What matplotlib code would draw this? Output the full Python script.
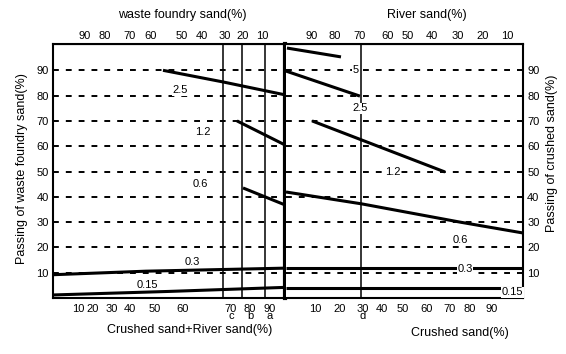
import matplotlib
matplotlib.use('Agg')
import matplotlib.pyplot as plt

plt.rcParams['font.family'] = ['Liberation Sans', 'DejaVu Sans']

# horizontal position inside each half is given on a 0-100 scale
# (left half: crushed+river sand vs foundry sand, right half: crushed vs river sand)
y_ticks = [10, 20, 30, 40, 50, 60, 70, 80, 90]

left_bottom_pos = [10.8, 17.2, 25.4, 33.2, 44.0, 56.0, 76.7, 84.9, 93.5]
left_bottom_lbl = ['10', '20', '30', '40', '50', '60', '70\nc', '80\nb', '90\na']
left_top_pos = [13.8, 22.4, 33.2, 42.2, 55.6, 64.2, 74.1, 81.9, 90.1]
left_top_lbl = ['90', '80', '70', '60', '50', '40', '30', '20', '10']

right_bottom_pos = [12.2, 22.8, 32.5, 40.5, 49.4, 59.5, 69.2, 77.6, 86.9]
right_bottom_lbl = ['10', '20', '30\nd', '40', '50', '60', '70', '80', '90']
right_top_pos = [11.0, 20.7, 31.2, 43.0, 51.5, 61.6, 72.6, 83.1, 93.2]
right_top_lbl = ['90', '80', '70', '60', '50', '40', '30', '20', '10']

# mix lines a, b, c (left) and d (right)
left_mix = [73.3, 81.5, 91.4]
right_mix = [31.6]

# grading curves: sieve size -> (x, passing %)
left_curves = {
    '2.5': ([47.4, 73.3, 100], [90.0, 85.4, 80.3]),
    '1.2': ([79.3, 100], [70.0, 60.5]),
    '0.6': ([81.9, 100], [43.5, 36.8]),
    '0.3': ([0, 40, 100], [9.2, 10.6, 11.8]),
    '0.15': ([0, 50, 100], [1.2, 2.6, 4.2]),
}
right_curves = {
    '5': ([0.4, 23.2], [98.8, 95.3]),
    '2.5': ([0, 31.2], [89.7, 79.8]),
    '1.2': ([11.0, 67.1], [70.0, 49.8]),
    '0.6': ([0, 32.0, 73.4, 100], [41.9, 37.2, 30.0, 25.7]),
    '0.3': ([0, 100], [11.8, 11.8]),
    '0.15': ([0, 100], [4.0, 4.0]),
}

# label anchor points for curves
left_tags = {'2.5': (54.7, 82.2), '1.2': (64.7, 65.6), '0.6': (63.4, 45.0),
             '0.3': (59.9, 14.2), '0.15': (40.5, 5.3)}
right_tags = {'5': (29.5, 90.1), '2.5': (31.2, 75.0), '1.2': (45.0, 49.8),
              '0.6': (73.4, 22.9), '0.3': (75.5, 11.5), '0.15': (95.4, 2.2)}

W, H = 566, 354
fig = plt.figure(figsize=(W / 100, H / 100), dpi=100)
bot = (H - 298) / H
hgt = (298 - 44) / H
axL = fig.add_axes([53 / W, bot, (285 - 53) / W, hgt])
axR = fig.add_axes([286 / W, bot, (523 - 286) / W, hgt])

tick_fs = 8
for ax in (axL, axR):
    ax.set_xlim(0, 100)
    ax.set_ylim(0, 100.4)
    for v in y_ticks:
        ax.plot([0, 100], [v, v], color='black', lw=1.4,
                ls=(0, (3, 3.6)), zorder=1)
    for s in ax.spines.values():
        s.set_linewidth(1.5)
    ax.tick_params(axis='both', length=0, labelsize=tick_fs)
    ax.set_yticks(y_ticks)

axL.spines['right'].set_linewidth(3.0)
axR.spines['left'].set_visible(False)

axL.set_xticks(left_bottom_pos)
axL.set_xticklabels(left_bottom_lbl, linespacing=0.72)
axL.tick_params(axis='x', pad=4)
axL.tick_params(axis='y', pad=3)
secL = axL.secondary_xaxis('top')
secL.set_xticks(left_top_pos)
secL.set_xticklabels(left_top_lbl)
secL.tick_params(length=0, labelsize=tick_fs, pad=2)

axR.set_xticks(right_bottom_pos)
axR.set_xticklabels(right_bottom_lbl, linespacing=0.72)
axR.tick_params(axis='x', pad=4)
axR.yaxis.tick_right()
axR.tick_params(axis='y', pad=3)
secR = axR.secondary_xaxis('top')
secR.set_xticks(right_top_pos)
secR.set_xticklabels(right_top_lbl)
secR.tick_params(length=0, labelsize=tick_fs, pad=2)

for x in left_mix:
    axL.axvline(x, color='black', lw=1.1, zorder=2)
for x in right_mix:
    axR.axvline(x, color='black', lw=1.1, zorder=2)

for ax, curves, tags in ((axL, left_curves, left_tags),
                         (axR, right_curves, right_tags)):
    for key, (xs, ys) in curves.items():
        ax.plot(xs, ys, color='black', lw=2.2, solid_capstyle='butt',
                zorder=3, clip_on=False)
    for key, (tx, ty) in tags.items():
        ax.text(tx, ty, key, fontsize=8, ha='center', va='center', zorder=4,
                bbox=dict(facecolor='white', edgecolor='none', pad=0.5))

fig.text(182 / W, 1 - 15 / H, 'waste foundry sand(%)', fontsize=9,
         ha='center', va='center')
fig.text(427 / W, 1 - 15 / H, 'River sand(%)', fontsize=9,
         ha='center', va='center')
fig.text(190 / W, 1 - 330 / H, 'Crushed sand+River sand(%)', fontsize=9,
         ha='center', va='center')
fig.text(460 / W, 1 - 333 / H, 'Crushed sand(%)', fontsize=9,
         ha='center', va='center')
fig.text(22 / W, 1 - 169 / H, 'Passing of waste foundry sand(%)', fontsize=9,
         ha='center', va='center', rotation=90)
fig.text(552 / W, 1 - 153 / H, 'Passing of crushed sand(%)', fontsize=9,
         ha='center', va='center', rotation=90)

fig.savefig('out.png', dpi=100)
